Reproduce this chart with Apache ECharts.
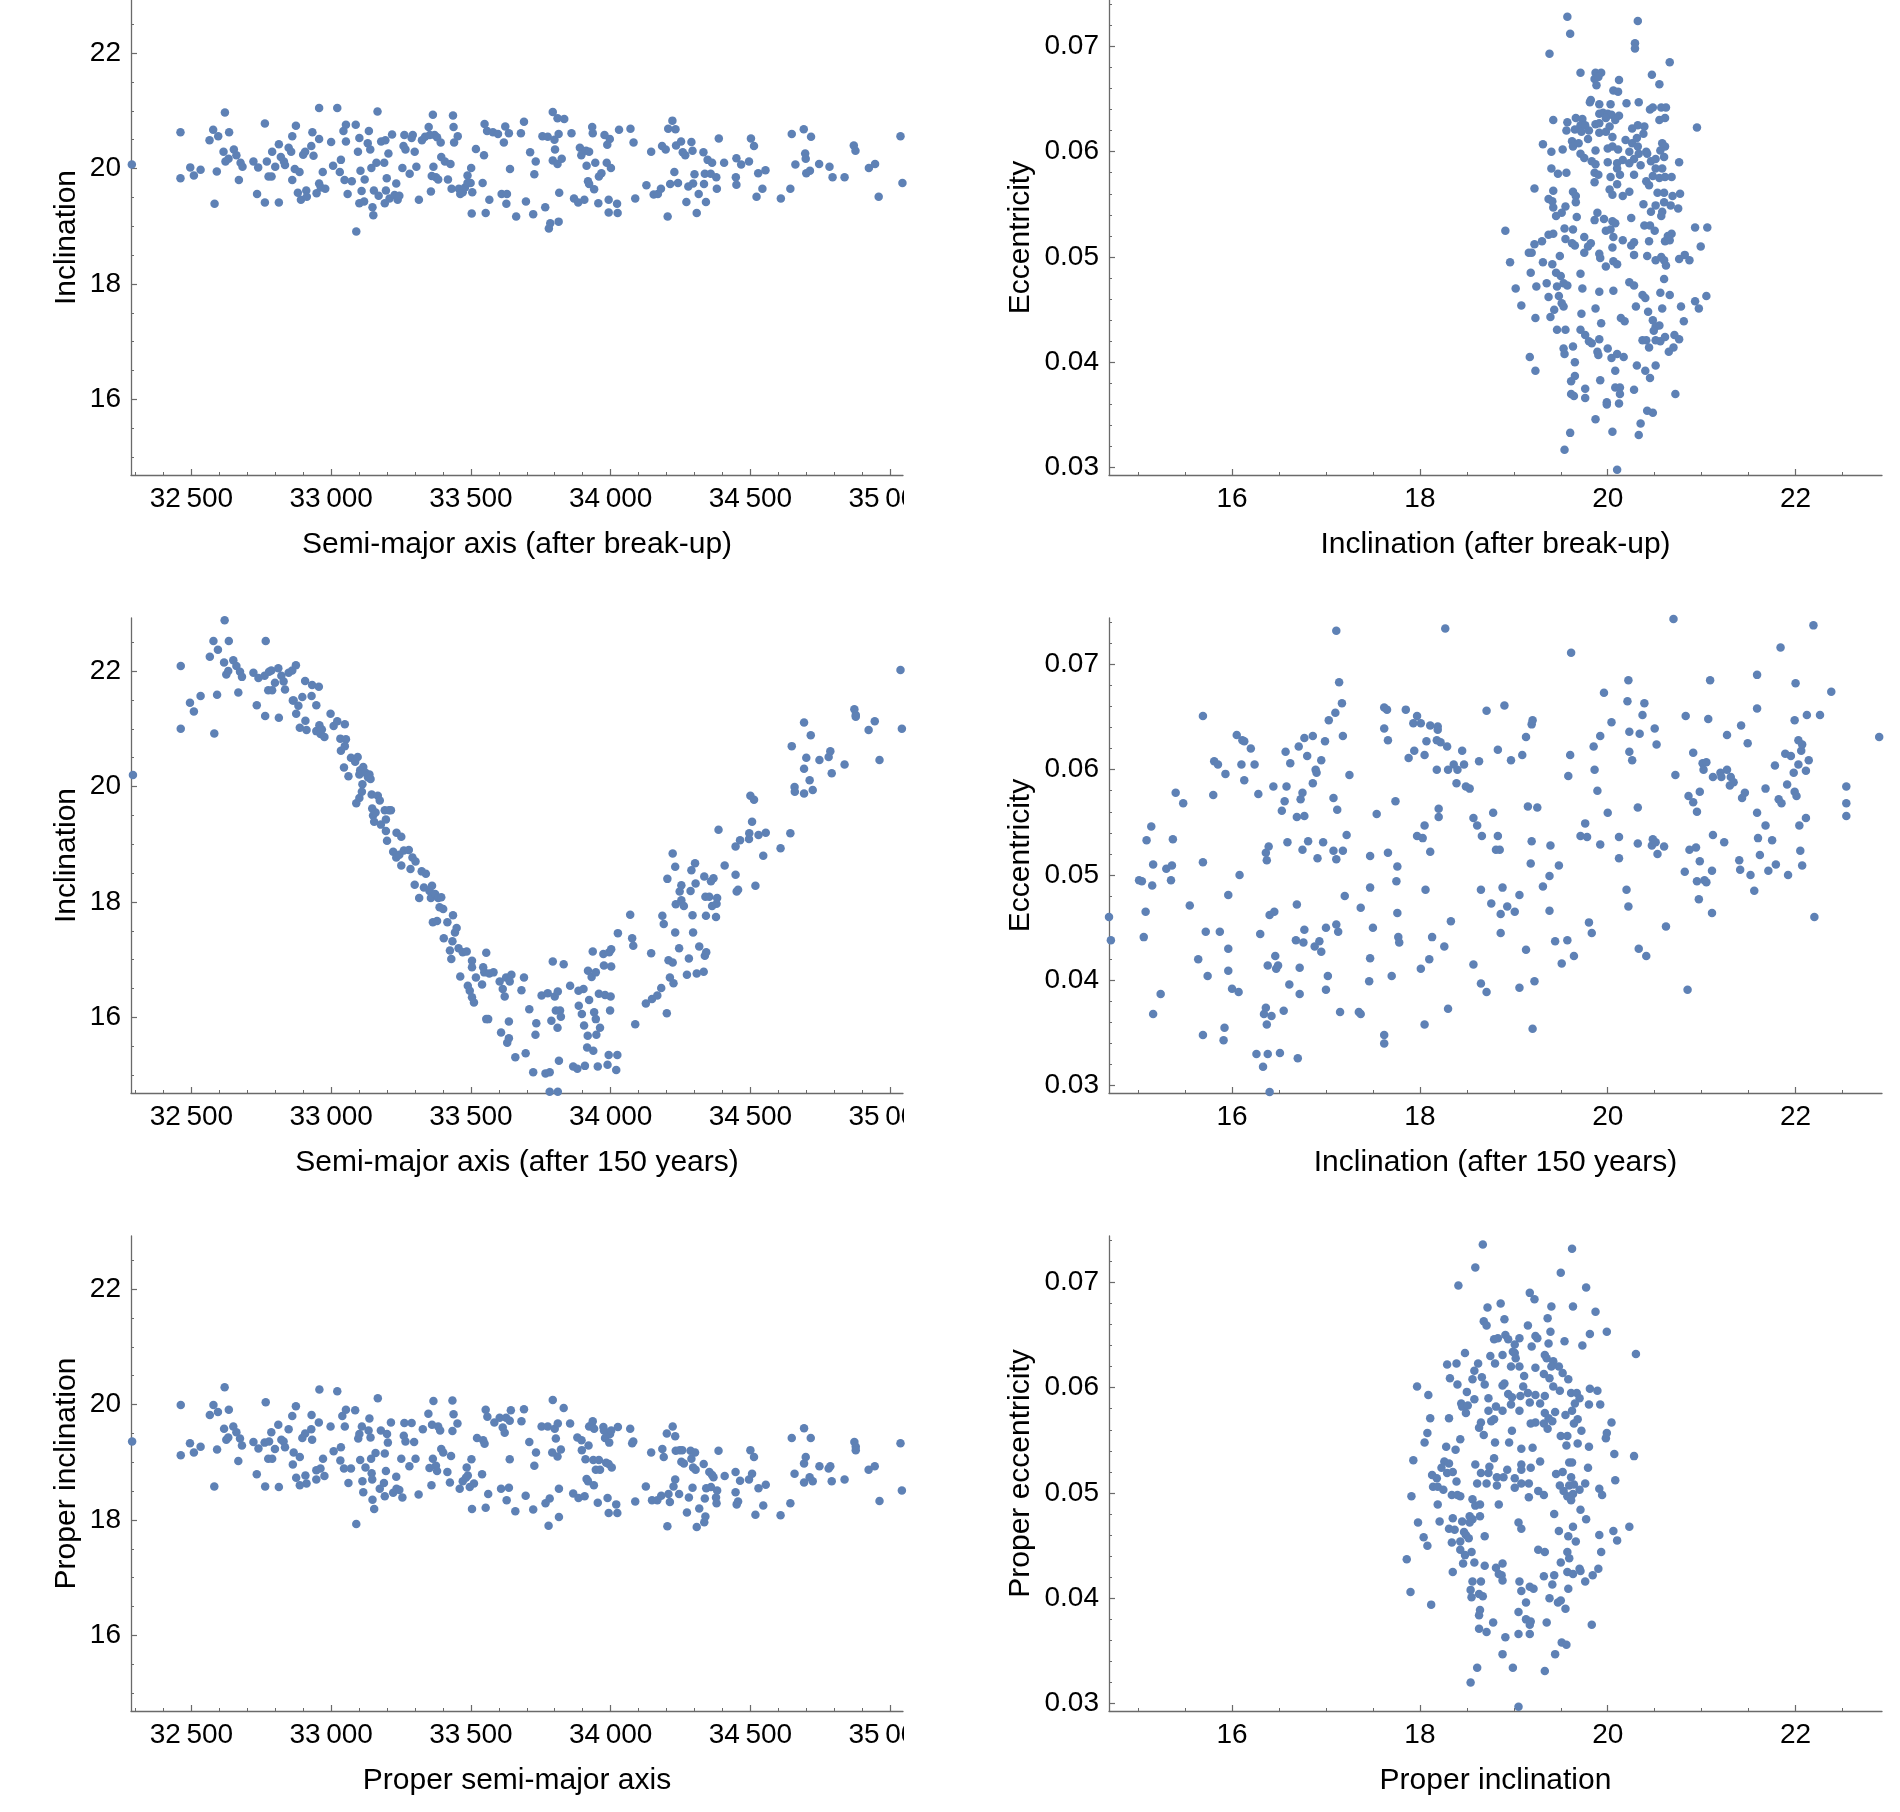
<!DOCTYPE html>
<html>
<head>
<meta charset="utf-8">
<title>Fragment orbital elements</title>
<script src="https://cdn.jsdelivr.net/npm/echarts@6.0.0/dist/echarts.min.js"></script>
<style>
  html, body { margin: 0; padding: 0; background: #fff; }
  #main { width: 1900px; height: 1812px; }
</style>
</head>
<body>
<div id="main"></div>
<script type="text/javascript">
// axis ranges and tick labels
var semiMajorRange = [32284, 35046];
var inclinationRange = [14.69, 22.92];
var eccentricityRange = [0.0293, 0.0744];
var semiMajorTicks = [32500, 33000, 33500, 34000, 34500, 35000];
var inclinationTicks = [16, 18, 20, 22];
var eccentricityTicks = [0.03, 0.04, 0.05, 0.06, 0.07];

// semi-major axis vs inclination, after break-up
var breakupSemiMajorInc = [[32287,20.07],[32461,20.63],[32461,19.83],[32496,20.02],[32509,19.88],[32533,19.98],[32565,20.49],[32578,20.67],[32583,19.39],[32591,19.95],[32596,20.56],[32620,20.97],[32622,20.12],[32615,20.29],[32635,20.63],[32633,20.17],[32652,20.33],[32661,20.23],[32670,19.80],[32676,20.10],[32683,20.03],[32722,20.12],[32735,19.56],[32739,20.02],[32763,20.78],[32763,19.41],[32770,20.12],[32776,19.86],[32787,19.86],[32789,20.29],[32800,20.03],[32813,19.41],[32813,20.42],[32820,20.20],[32831,20.12],[32835,20.06],[32848,20.36],[32857,20.29],[32861,19.80],[32870,19.99],[32874,20.74],[32861,20.56],[32881,19.58],[32887,19.94],[32892,19.46],[32900,20.24],[32907,20.29],[32911,19.62],[32913,19.51],[32929,20.39],[32933,20.63],[32937,20.22],[32948,19.57],[32957,20.51],[32957,21.05],[32957,19.74],[32963,19.67],[32970,19.94],[32979,19.65],[33000,20.46],[33007,20.05],[33022,21.05],[33031,19.94],[33035,20.15],[33044,20.65],[33053,20.47],[33053,20.76],[33048,19.80],[33059,19.56],[33074,19.78],[33088,20.76],[33090,18.91],[33096,20.29],[33101,20.53],[33105,19.96],[33109,19.61],[33101,19.40],[33118,19.43],[33120,19.81],[33131,20.44],[33135,20.65],[33140,20.33],[33144,20.01],[33148,19.33],[33151,19.19],[33153,19.62],[33162,20.10],[33166,20.99],[33170,19.53],[33179,20.47],[33190,20.10],[33194,20.49],[33196,19.62],[33199,19.83],[33205,20.26],[33192,19.40],[33209,19.48],[33218,20.59],[33227,19.54],[33233,19.74],[33238,19.46],[33244,19.53],[33255,20.01],[33259,20.39],[33262,20.58],[33266,20.33],[33281,19.91],[33288,20.53],[33292,20.58],[33299,20.29],[33305,20.03],[33314,19.46],[33325,20.49],[33336,20.55],[33349,20.72],[33353,20.58],[33357,19.60],[33360,19.87],[33364,20.93],[33366,20.03],[33370,20.58],[33375,19.85],[33379,20.54],[33383,19.81],[33392,20.45],[33394,20.20],[33407,20.12],[33418,19.81],[33427,20.08],[33431,19.65],[33436,20.92],[33438,20.72],[33440,20.45],[33453,20.56],[33457,19.65],[33462,19.56],[33471,19.59],[33479,19.67],[33488,19.88],[33488,19.75],[33501,20.01],[33503,19.22],[33505,19.59],[33499,19.75],[33518,20.34],[33542,19.75],[33547,20.23],[33549,20.77],[33553,19.23],[33558,20.65],[33566,19.46],[33579,20.63],[33597,20.60],[33610,19.56],[33618,20.45],[33623,20.73],[33627,19.39],[33629,19.56],[33636,20.61],[33640,19.99],[33662,19.17],[33679,20.61],[33690,20.81],[33697,19.43],[33712,20.28],[33723,19.21],[33727,19.90],[33732,20.12],[33756,20.56],[33766,19.33],[33775,20.55],[33779,18.96],[33784,19.05],[33793,20.98],[33793,20.14],[33799,20.50],[33801,20.33],[33810,20.87],[33810,20.08],[33814,20.60],[33814,19.08],[33816,19.58],[33825,20.17],[33834,20.86],[33860,20.61],[33869,19.48],[33884,19.41],[33890,20.36],[33895,20.23],[33906,19.46],[33912,20.31],[33914,20.05],[33919,19.78],[33923,20.29],[33923,19.73],[33934,20.72],[33936,20.61],[33941,19.64],[33945,20.10],[33956,19.40],[33958,19.86],[33967,19.92],[33978,20.58],[33986,20.10],[33988,20.41],[33993,19.46],[33993,19.24],[33997,20.51],[34001,20.01],[34023,19.39],[34025,19.23],[34030,20.67],[34071,20.69],[34082,20.45],[34088,19.48],[34128,19.71],[34145,20.29],[34154,19.55],[34169,19.56],[34180,19.65],[34184,20.39],[34197,20.33],[34204,19.17],[34206,20.69],[34213,19.73],[34221,20.83],[34228,19.94],[34232,20.68],[34234,20.40],[34241,19.75],[34252,20.47],[34258,20.28],[34267,20.23],[34271,19.42],[34278,19.69],[34289,20.46],[34293,20.31],[34295,19.74],[34300,19.90],[34308,19.23],[34315,19.56],[34332,20.28],[34334,19.73],[34337,19.91],[34341,19.42],[34347,20.15],[34358,19.91],[34363,20.10],[34378,19.85],[34380,19.65],[34387,20.52],[34406,20.10],[34448,19.85],[34450,19.72],[34450,20.18],[34467,20.07],[34495,20.12],[34502,20.52],[34513,20.39],[34522,19.51],[34528,19.92],[34543,19.65],[34554,19.97],[34609,19.48],[34643,19.65],[34648,20.60],[34661,20.07],[34691,20.68],[34696,20.26],[34698,20.17],[34700,19.92],[34713,19.96],[34717,20.55],[34746,20.08],[34783,20.03],[34794,19.85],[34837,19.85],[34870,20.40],[34876,20.31],[34924,20.01],[34946,20.08],[34959,19.51],[35037,20.56],[35044,19.75]];

// inclination vs eccentricity, after break-up
var breakupIncEcc = [[19.57,0.0728],[20.32,0.0724],[19.60,0.0712],[20.29,0.0703],[20.29,0.0698],[19.38,0.0693],[20.66,0.0685],[19.71,0.0675],[19.87,0.0675],[19.93,0.0675],[19.86,0.0669],[19.90,0.0671],[20.47,0.0673],[20.12,0.0668],[20.55,0.0664],[19.88,0.0663],[20.06,0.0658],[20.11,0.0657],[19.82,0.0649],[19.81,0.0647],[19.91,0.0645],[20.03,0.0645],[20.20,0.0646],[20.33,0.0647],[20.45,0.0640],[20.48,0.0642],[20.57,0.0642],[20.62,0.0642],[19.91,0.0636],[19.95,0.0637],[20.00,0.0636],[20.04,0.0635],[19.98,0.0632],[20.12,0.0634],[20.08,0.0630],[19.42,0.0630],[19.57,0.0628],[19.66,0.0632],[19.73,0.0631],[19.71,0.0625],[19.76,0.0625],[19.87,0.0626],[19.91,0.0627],[20.02,0.0624],[20.55,0.0630],[20.61,0.0632],[20.95,0.0623],[19.56,0.0620],[19.65,0.0621],[19.72,0.0619],[19.80,0.0620],[19.91,0.0618],[19.98,0.0619],[20.05,0.0614],[20.26,0.0622],[20.32,0.0625],[20.39,0.0624],[20.38,0.0617],[19.31,0.0607],[19.40,0.0600],[19.52,0.0602],[19.62,0.0610],[19.63,0.0605],[19.69,0.0608],[19.79,0.0612],[19.87,0.0601],[20.00,0.0603],[20.05,0.0605],[20.11,0.0602],[20.19,0.0611],[20.26,0.0608],[20.31,0.0613],[20.32,0.0605],[20.23,0.0600],[20.33,0.0598],[20.41,0.0600],[20.42,0.0598],[20.58,0.0608],[20.61,0.0605],[20.56,0.0601],[19.71,0.0598],[19.75,0.0594],[19.83,0.0591],[19.87,0.0588],[20.00,0.0590],[20.10,0.0589],[20.16,0.0592],[20.23,0.0589],[20.28,0.0593],[20.46,0.0591],[20.51,0.0593],[20.60,0.0595],[20.76,0.0590],[20.35,0.0587],[19.40,0.0584],[19.47,0.0579],[19.56,0.0580],[19.86,0.0580],[19.90,0.0578],[19.86,0.0571],[20.03,0.0576],[20.10,0.0584],[20.13,0.0578],[20.28,0.0578],[20.51,0.0584],[20.58,0.0584],[20.41,0.0572],[20.44,0.0568],[20.48,0.0577],[20.55,0.0575],[20.61,0.0576],[20.68,0.0576],[19.22,0.0565],[19.42,0.0563],[19.63,0.0562],[19.66,0.0558],[20.02,0.0564],[20.05,0.0559],[20.10,0.0569],[20.16,0.0558],[20.23,0.0562],[20.53,0.0561],[20.60,0.0561],[20.69,0.0558],[20.77,0.0560],[19.37,0.0555],[19.41,0.0553],[19.66,0.0552],[20.38,0.0550],[20.51,0.0549],[20.60,0.0552],[20.67,0.0549],[20.75,0.0546],[19.42,0.0547],[19.55,0.0548],[19.45,0.0539],[19.51,0.0542],[19.67,0.0538],[19.89,0.0542],[19.86,0.0535],[19.96,0.0536],[20.05,0.0534],[20.08,0.0532],[20.25,0.0537],[20.58,0.0543],[20.57,0.0539],[20.46,0.0543],[18.91,0.0525],[19.37,0.0521],[19.42,0.0522],[19.54,0.0527],[19.63,0.0526],[19.55,0.0517],[19.62,0.0513],[19.65,0.0511],[19.75,0.0519],[19.79,0.0510],[19.82,0.0513],[19.75,0.0504],[19.98,0.0525],[20.03,0.0526],[20.06,0.0519],[20.16,0.0516],[20.25,0.0511],[20.28,0.0514],[20.05,0.0509],[20.39,0.0530],[20.45,0.0530],[20.50,0.0525],[20.44,0.0515],[20.61,0.0515],[20.66,0.0516],[20.68,0.0522],[20.64,0.0520],[20.93,0.0528],[21.06,0.0528],[20.99,0.0510],[19.16,0.0504],[19.19,0.0504],[19.22,0.0512],[19.30,0.0515],[18.96,0.0495],[19.31,0.0495],[19.41,0.0493],[19.49,0.0501],[19.91,0.0503],[19.92,0.0499],[19.98,0.0491],[20.06,0.0496],[20.10,0.0493],[20.28,0.0502],[20.42,0.0501],[20.51,0.0497],[20.57,0.0500],[20.60,0.0497],[20.62,0.0492],[20.76,0.0498],[20.82,0.0502],[20.87,0.0497],[19.18,0.0485],[19.45,0.0485],[19.50,0.0482],[19.71,0.0484],[19.24,0.0472],[19.35,0.0475],[19.46,0.0472],[19.53,0.0475],[19.57,0.0473],[19.73,0.0470],[19.91,0.0467],[20.06,0.0468],[20.23,0.0476],[20.28,0.0473],[20.60,0.0479],[20.56,0.0466],[20.66,0.0464],[19.02,0.0470],[19.08,0.0454],[19.37,0.0462],[19.48,0.0463],[19.51,0.0456],[19.43,0.0450],[19.53,0.0453],[19.87,0.0451],[20.30,0.0453],[20.37,0.0464],[20.40,0.0461],[20.43,0.0448],[20.58,0.0451],[20.78,0.0453],[20.93,0.0458],[20.97,0.0451],[21.05,0.0463],[19.23,0.0442],[19.39,0.0443],[19.72,0.0446],[19.93,0.0437],[20.14,0.0442],[20.18,0.0439],[20.48,0.0440],[20.51,0.0434],[20.55,0.0435],[20.49,0.0430],[20.81,0.0439],[19.46,0.0431],[19.55,0.0431],[19.71,0.0431],[19.76,0.0426],[19.80,0.0420],[19.83,0.0418],[19.91,0.0422],[20.00,0.0413],[20.37,0.0421],[20.41,0.0421],[20.44,0.0414],[20.51,0.0421],[20.56,0.0420],[20.61,0.0424],[20.71,0.0426],[20.76,0.0422],[20.70,0.0414],[20.65,0.0410],[19.53,0.0413],[19.54,0.0408],[19.63,0.0415],[19.89,0.0410],[19.90,0.0407],[20.04,0.0404],[20.10,0.0408],[20.17,0.0405],[19.17,0.0405],[19.23,0.0392],[19.65,0.0400],[19.65,0.0387],[19.61,0.0382],[19.92,0.0383],[20.08,0.0392],[20.31,0.0397],[20.40,0.0392],[20.45,0.0385],[20.51,0.0397],[19.76,0.0375],[19.76,0.0366],[19.61,0.0370],[19.64,0.0368],[20.08,0.0376],[20.13,0.0376],[20.13,0.0370],[20.28,0.0374],[20.72,0.0370],[19.99,0.0362],[19.99,0.0360],[20.12,0.0361],[20.42,0.0354],[20.48,0.0352],[19.87,0.0346],[20.35,0.0342],[19.60,0.0333],[20.05,0.0334],[20.33,0.0331],[19.54,0.0317],[20.10,0.0298]];

// semi-major axis vs inclination, after 150 years
var laterSemiMajorInc = [[32291,20.20],[32462,22.09],[32462,21.00],[32495,21.45],[32509,21.30],[32533,21.57],[32566,22.25],[32579,22.52],[32582,20.92],[32592,21.59],[32595,22.37],[32619,22.88],[32617,22.15],[32625,21.94],[32632,22.00],[32634,22.52],[32650,22.19],[32661,22.09],[32668,21.63],[32674,21.99],[32681,21.90],[32722,21.97],[32734,21.41],[32740,21.88],[32762,21.92],[32764,21.22],[32766,22.52],[32775,21.67],[32778,21.99],[32786,22.01],[32789,21.67],[32799,21.80],[32811,22.05],[32813,21.19],[32822,21.92],[32830,21.82],[32835,21.68],[32848,21.97],[32861,22.01],[32863,21.49],[32866,21.49],[32874,22.10],[32875,21.26],[32883,21.40],[32888,21.02],[32897,21.55],[32907,21.83],[32908,21.14],[32912,20.98],[32930,21.57],[32932,21.76],[32947,21.41],[32947,20.96],[32956,21.73],[32958,21.06],[32962,20.91],[32967,20.99],[32976,20.86],[32998,21.26],[33009,21.05],[33022,21.13],[33033,20.83],[33035,20.62],[33046,20.33],[33049,21.08],[33053,20.82],[33049,20.70],[33062,20.18],[33071,20.50],[33086,20.43],[33095,20.51],[33101,20.21],[33104,20.28],[33112,20.04],[33115,20.34],[33123,20.24],[33132,20.16],[33137,20.21],[33141,20.13],[33090,19.71],[33101,19.80],[33110,19.91],[33145,19.86],[33147,19.62],[33150,19.50],[33154,19.39],[33159,19.55],[33167,19.84],[33174,19.76],[33178,19.34],[33192,19.59],[33196,19.43],[33196,19.23],[33200,19.06],[33207,19.59],[33214,19.59],[33222,18.87],[33233,18.77],[33234,19.20],[33244,18.82],[33251,19.13],[33251,18.63],[33260,18.89],[33278,18.90],[33284,18.57],[33291,18.77],[33299,18.30],[33302,18.70],[33315,18.07],[33324,18.53],[33332,18.25],[33339,18.49],[33352,18.19],[33357,18.07],[33361,18.28],[33364,17.65],[33372,18.14],[33379,17.67],[33383,18.07],[33388,17.91],[33394,18.08],[33401,17.88],[33403,17.37],[33416,17.65],[33425,17.16],[33430,17.01],[33434,17.32],[33436,17.77],[33443,17.47],[33449,17.55],[33456,17.20],[33462,16.71],[33471,17.13],[33485,17.14],[33489,16.55],[33496,16.46],[33504,16.98],[33504,16.87],[33504,16.35],[33511,16.26],[33518,16.69],[33540,16.57],[33544,16.87],[33548,16.78],[33555,17.12],[33555,15.97],[33562,15.97],[33566,16.76],[33581,16.78],[33603,16.62],[33608,15.74],[33614,16.49],[33621,16.36],[33626,16.69],[33630,15.56],[33636,15.64],[33636,15.93],[33639,16.62],[33645,16.74],[33659,15.31],[33681,16.47],[33690,16.69],[33696,15.38],[33709,16.14],[33723,15.05],[33731,15.70],[33734,15.90],[33753,16.38],[33767,15.03],[33775,16.42],[33782,15.05],[33782,14.71],[33788,15.94],[33793,16.97],[33800,16.36],[33804,16.12],[33810,15.82],[33811,16.45],[33811,14.71],[33815,15.25],[33819,16.12],[33822,16.01],[33832,16.92],[33855,16.55],[33866,15.15],[33881,15.11],[33886,16.20],[33885,16.46],[33897,16.06],[33903,16.49],[33905,15.86],[33908,15.16],[33916,15.48],[33918,15.68],[33919,16.81],[33923,16.30],[33932,16.70],[33936,17.14],[33938,15.42],[33941,16.09],[33947,16.78],[33947,15.97],[33949,15.70],[33954,15.15],[33958,16.41],[33962,15.82],[33974,17.10],[33976,16.90],[33980,16.39],[33989,15.18],[33993,15.35],[33995,17.13],[33998,16.12],[34000,16.36],[34002,16.88],[34002,17.18],[34020,15.09],[34024,15.35],[34026,17.46],[34070,17.78],[34077,17.37],[34081,17.24],[34088,15.88],[34126,16.24],[34145,17.11],[34148,16.32],[34167,16.38],[34181,16.51],[34185,17.76],[34190,17.62],[34201,16.07],[34203,18.40],[34207,16.99],[34212,16.69],[34222,16.95],[34222,18.84],[34225,16.59],[34231,18.61],[34231,17.47],[34233,17.96],[34245,17.20],[34247,18.18],[34253,18.29],[34253,18.03],[34262,17.93],[34273,16.74],[34280,17.02],[34286,18.19],[34289,18.55],[34293,17.77],[34295,17.47],[34302,18.67],[34304,18.32],[34308,16.76],[34317,17.23],[34333,16.79],[34335,18.44],[34337,17.07],[34339,18.09],[34341,17.76],[34342,17.13],[34353,18.09],[34359,18.36],[34363,17.93],[34368,18.41],[34377,17.74],[34379,17.97],[34381,18.07],[34386,19.25],[34408,18.63],[34447,18.96],[34447,18.47],[34451,18.18],[34456,18.21],[34463,19.07],[34495,19.09],[34496,19.19],[34500,19.84],[34506,19.39],[34513,19.77],[34518,18.28],[34529,19.16],[34546,18.80],[34555,19.20],[34608,18.93],[34643,19.19],[34648,20.70],[34658,19.99],[34659,19.91],[34692,19.88],[34692,21.11],[34692,20.31],[34700,20.50],[34712,20.11],[34716,20.89],[34723,19.94],[34747,20.46],[34780,20.51],[34786,20.61],[34791,20.23],[34837,20.38],[34872,21.34],[34877,21.24],[34877,21.21],[34923,20.98],[34945,21.13],[34962,20.46],[35037,22.02],[35042,21.00]];

// inclination vs eccentricity, after 150 years
var laterIncEcc = [[14.67,0.0488],[14.69,0.0460],[14.71,0.0438],[15.01,0.0495],[15.04,0.0494],[15.06,0.0441],[15.08,0.0465],[15.09,0.0533],[15.14,0.0546],[15.15,0.0490],[15.16,0.0510],[15.16,0.0368],[15.24,0.0387],[15.30,0.0506],[15.35,0.0495],[15.36,0.0509],[15.37,0.0534],[15.40,0.0578],[15.48,0.0568],[15.55,0.0471],[15.64,0.0420],[15.69,0.0651],[15.69,0.0348],[15.69,0.0512],[15.72,0.0446],[15.74,0.0404],[15.80,0.0576],[15.81,0.0608],[15.85,0.0605],[15.87,0.0446],[15.93,0.0596],[15.96,0.0481],[15.96,0.0430],[15.96,0.0409],[15.92,0.0355],[15.91,0.0343],[16.00,0.0392],[16.07,0.0389],[16.05,0.0633],[16.08,0.0500],[16.10,0.0605],[16.11,0.0628],[16.13,0.0627],[16.13,0.0590],[16.20,0.0620],[16.24,0.0605],[16.28,0.0577],[16.30,0.0444],[16.26,0.0330],[16.33,0.0318],[16.34,0.0368],[16.36,0.0374],[16.36,0.0521],[16.37,0.0514],[16.37,0.0358],[16.38,0.0414],[16.38,0.0330],[16.39,0.0527],[16.40,0.0294],[16.40,0.0462],[16.42,0.0366],[16.45,0.0465],[16.44,0.0584],[16.46,0.0423],[16.47,0.0411],[16.49,0.0414],[16.51,0.0331],[16.53,0.0561],[16.55,0.0371],[16.56,0.0570],[16.57,0.0617],[16.58,0.0584],[16.59,0.0531],[16.61,0.0396],[16.62,0.0606],[16.68,0.0438],[16.69,0.0472],[16.69,0.0555],[16.70,0.0326],[16.71,0.0622],[16.72,0.0412],[16.72,0.0387],[16.73,0.0572],[16.75,0.0524],[16.75,0.0578],[16.76,0.0436],[16.77,0.0630],[16.77,0.0448],[16.77,0.0556],[16.80,0.0613],[16.81,0.0532],[16.86,0.0632],[16.86,0.0587],[16.88,0.0432],[16.89,0.0600],[16.90,0.0597],[16.91,0.0516],[16.93,0.0437],[16.95,0.0609],[16.95,0.0427],[16.97,0.0531],[16.99,0.0627],[17.00,0.0391],[17.00,0.0450],[17.02,0.0404],[17.03,0.0647],[17.08,0.0573],[17.08,0.0523],[17.10,0.0654],[17.11,0.0732],[17.11,0.0515],[17.11,0.0453],[17.12,0.0562],[17.13,0.0446],[17.14,0.0683],[17.15,0.0370],[17.17,0.0663],[17.18,0.0523],[17.18,0.0632],[17.20,0.0480],[17.22,0.0538],[17.25,0.0595],[17.35,0.0370],[17.37,0.0368],[17.37,0.0469],[17.47,0.0488],[17.47,0.0518],[17.47,0.0421],[17.46,0.0399],[17.50,0.0450],[17.54,0.0558],[17.62,0.0639],[17.62,0.0348],[17.62,0.0340],[17.62,0.0659],[17.65,0.0657],[17.66,0.0628],[17.66,0.0521],[17.70,0.0404],[17.74,0.0570],[17.75,0.0494],[17.76,0.0508],[17.76,0.0464],[17.77,0.0441],[17.78,0.0436],[17.85,0.0657],[17.88,0.0611],[17.93,0.0644],[17.94,0.0618],[17.97,0.0651],[17.97,0.0537],[18.01,0.0644],[18.03,0.0535],[18.05,0.0614],[18.05,0.0358],[18.05,0.0547],[18.06,0.0486],[18.07,0.0627],[18.01,0.0411],[18.10,0.0420],[18.11,0.0642],[18.11,0.0522],[18.13,0.0441],[18.18,0.0628],[18.18,0.0600],[18.19,0.0641],[18.19,0.0638],[18.20,0.0555],[18.20,0.0563],[18.22,0.0626],[18.26,0.0432],[18.27,0.0734],[18.29,0.0622],[18.30,0.0600],[18.30,0.0373],[18.33,0.0456],[18.36,0.0605],[18.39,0.0587],[18.40,0.0600],[18.45,0.0618],[18.47,0.0605],[18.49,0.0584],[18.53,0.0582],[18.57,0.0415],[18.57,0.0554],[18.61,0.0547],[18.63,0.0608],[18.65,0.0397],[18.66,0.0537],[18.65,0.0486],[18.71,0.0389],[18.71,0.0656],[18.76,0.0473],[18.78,0.0559],[18.81,0.0524],[18.83,0.0619],[18.83,0.0537],[18.85,0.0524],[18.86,0.0463],[18.86,0.0445],[18.88,0.0488],[18.90,0.0661],[18.93,0.0470],[18.97,0.0609],[19.01,0.0465],[19.06,0.0481],[19.06,0.0393],[19.09,0.0614],[19.13,0.0429],[19.13,0.0631],[19.15,0.0565],[19.18,0.0511],[19.19,0.0532],[19.19,0.0643],[19.20,0.0647],[19.22,0.0399],[19.20,0.0354],[19.25,0.0564],[19.31,0.0489],[19.38,0.0466],[19.38,0.0499],[19.39,0.0528],[19.44,0.0437],[19.48,0.0509],[19.51,0.0416],[19.57,0.0438],[19.58,0.0594],[19.60,0.0614],[19.61,0.0711],[19.64,0.0423],[19.71,0.0537],[19.76,0.0549],[19.78,0.0536],[19.80,0.0455],[19.83,0.0445],[19.85,0.0622],[19.86,0.0600],[19.89,0.0580],[19.92,0.0529],[19.92,0.0632],[19.96,0.0673],[20.00,0.0559],[20.04,0.0645],[20.12,0.0516],[20.12,0.0536],[20.20,0.0486],[20.21,0.0665],[20.22,0.0685],[20.22,0.0470],[20.23,0.0636],[20.23,0.0617],[20.26,0.0609],[20.32,0.0564],[20.32,0.0530],[20.33,0.0430],[20.34,0.0634],[20.37,0.0652],[20.39,0.0663],[20.41,0.0423],[20.47,0.0528],[20.48,0.0534],[20.50,0.0639],[20.51,0.0531],[20.52,0.0624],[20.53,0.0520],[20.60,0.0527],[20.62,0.0451],[20.70,0.0743],[20.72,0.0595],[20.82,0.0503],[20.83,0.0651],[20.85,0.0391],[20.86,0.0575],[20.87,0.0524],[20.91,0.0569],[20.91,0.0616],[20.94,0.0526],[20.95,0.0560],[20.95,0.0494],[20.97,0.0477],[20.98,0.0579],[20.98,0.0513],[21.01,0.0606],[21.02,0.0600],[21.03,0.0495],[21.05,0.0493],[21.05,0.0607],[21.07,0.0648],[21.09,0.0685],[21.11,0.0504],[21.11,0.0464],[21.12,0.0593],[21.12,0.0538],[21.20,0.0597],[21.21,0.0593],[21.24,0.0531],[21.27,0.0600],[21.27,0.0633],[21.30,0.0585],[21.31,0.0593],[21.34,0.0588],[21.40,0.0514],[21.41,0.0505],[21.42,0.0642],[21.43,0.0573],[21.46,0.0578],[21.49,0.0625],[21.52,0.0500],[21.56,0.0485],[21.59,0.0559],[21.59,0.0658],[21.59,0.0690],[21.60,0.0535],[21.62,0.0519],[21.68,0.0582],[21.68,0.0547],[21.71,0.0504],[21.75,0.0533],[21.78,0.0604],[21.79,0.0510],[21.82,0.0572],[21.84,0.0716],[21.85,0.0568],[21.89,0.0615],[21.91,0.0586],[21.92,0.0500],[21.95,0.0613],[21.98,0.0597],[21.99,0.0579],[21.99,0.0647],[22.00,0.0682],[22.01,0.0575],[22.03,0.0605],[22.03,0.0628],[22.04,0.0547],[22.05,0.0523],[22.06,0.0618],[22.07,0.0624],[22.07,0.0509],[22.11,0.0554],[22.11,0.0599],[22.12,0.0652],[22.14,0.0609],[22.19,0.0737],[22.20,0.0460],[22.26,0.0652],[22.38,0.0674],[22.54,0.0584],[22.54,0.0568],[22.54,0.0556],[22.89,0.0631]];

// proper semi-major axis vs proper inclination
var properSemiMajorInc = [[32288,19.36],[32462,19.99],[32462,19.12],[32495,19.33],[32509,19.17],[32533,19.27],[32566,19.82],[32579,19.99],[32582,18.58],[32592,19.22],[32595,19.87],[32619,20.30],[32617,19.58],[32625,19.39],[32634,19.91],[32632,19.43],[32650,19.62],[32661,19.52],[32668,19.02],[32674,19.41],[32681,19.29],[32722,19.35],[32734,18.79],[32740,19.24],[32762,19.34],[32764,18.58],[32766,20.04],[32775,19.06],[32778,19.36],[32786,19.52],[32789,19.06],[32799,19.23],[32811,19.65],[32813,18.57],[32822,19.39],[32830,19.36],[32835,19.26],[32848,19.57],[32861,19.80],[32863,18.96],[32866,19.17],[32874,19.97],[32875,18.73],[32888,19.09],[32888,18.60],[32897,19.42],[32907,19.50],[32908,18.77],[32912,18.63],[32930,19.82],[32932,19.39],[32929,19.57],[32947,18.86],[32947,18.70],[32956,19.69],[32958,20.26],[32962,18.89],[32971,19.06],[32976,18.76],[32998,19.62],[33009,19.19],[33022,20.23],[33033,19.03],[33035,19.26],[33046,18.89],[33049,19.62],[33053,19.91],[33040,19.80],[33062,18.64],[33071,18.89],[33086,19.90],[33090,17.93],[33097,19.41],[33101,19.49],[33104,19.04],[33110,19.62],[33112,18.67],[33115,18.48],[33123,18.91],[33134,19.55],[33137,19.76],[33141,19.43],[33143,19.06],[33145,18.81],[33147,18.70],[33148,18.35],[33154,18.19],[33159,19.16],[33167,20.11],[33174,18.54],[33178,19.55],[33189,18.64],[33192,18.41],[33192,19.15],[33196,18.85],[33200,19.49],[33203,19.34],[33214,19.69],[33222,18.47],[33233,18.75],[33234,18.54],[33244,18.52],[33251,19.06],[33255,18.39],[33260,19.46],[33262,19.68],[33266,19.36],[33280,18.93],[33288,19.68],[33297,19.35],[33302,19.06],[33313,18.44],[33328,19.57],[33348,19.84],[33352,18.90],[33359,18.60],[33361,19.65],[33366,20.06],[33364,19.06],[33375,18.94],[33379,18.85],[33383,19.62],[33390,19.55],[33394,19.23],[33401,19.17],[33416,18.83],[33425,18.65],[33429,19.11],[33434,20.07],[33438,19.83],[33434,19.54],[33452,19.67],[33460,18.54],[33471,18.67],[33482,18.73],[33485,18.91],[33489,18.77],[33496,18.57],[33502,19.05],[33504,18.19],[33511,18.63],[33522,19.42],[33540,18.79],[33544,19.38],[33549,19.32],[33553,19.91],[33553,18.21],[33559,19.79],[33562,18.45],[33584,19.69],[33603,19.77],[33608,18.54],[33614,19.60],[33621,19.51],[33626,19.77],[33628,18.34],[33636,18.56],[33639,19.72],[33643,19.90],[33639,19.05],[33659,18.15],[33681,19.71],[33690,19.92],[33696,18.42],[33709,19.35],[33723,18.18],[33727,18.94],[33733,19.17],[33753,19.62],[33767,18.29],[33775,19.62],[33778,17.90],[33782,18.37],[33791,19.17],[33793,20.08],[33800,19.58],[33804,19.41],[33810,19.10],[33811,19.67],[33815,18.54],[33815,18.05],[33822,19.22],[33832,19.94],[33855,19.67],[33866,18.46],[33881,19.43],[33885,18.38],[33896,19.38],[33897,19.21],[33907,18.41],[33910,19.05],[33914,18.71],[33919,18.67],[33921,19.29],[33923,19.62],[33932,19.64],[33936,19.71],[33938,19.04],[33940,18.60],[33941,19.58],[33947,18.87],[33954,18.30],[33958,19.04],[33962,18.87],[33974,19.61],[33976,19.55],[33980,19.42],[33984,18.99],[33989,18.38],[33993,18.12],[33993,18.97],[33995,19.34],[33998,19.49],[34002,19.55],[34004,18.91],[34020,18.27],[34024,18.12],[34026,19.61],[34070,19.58],[34077,19.33],[34081,19.36],[34088,18.32],[34126,18.58],[34145,19.17],[34148,18.34],[34167,18.34],[34181,18.42],[34185,19.23],[34190,19.09],[34201,19.50],[34203,17.89],[34207,18.45],[34212,18.31],[34222,19.62],[34225,18.58],[34231,19.45],[34231,18.70],[34233,19.20],[34245,18.45],[34247,19.21],[34253,19.01],[34256,19.21],[34262,18.98],[34273,18.13],[34280,18.39],[34286,19.20],[34289,19.06],[34293,18.56],[34295,18.91],[34302,19.17],[34304,18.87],[34308,17.88],[34317,18.20],[34333,18.97],[34335,17.96],[34337,18.37],[34339,18.06],[34342,18.55],[34353,18.83],[34359,18.57],[34363,18.78],[34368,18.74],[34377,18.39],[34379,18.29],[34381,18.51],[34386,19.20],[34408,18.76],[34447,18.48],[34447,18.83],[34451,18.27],[34456,18.32],[34463,18.68],[34495,18.70],[34500,19.21],[34506,18.80],[34513,19.09],[34518,18.09],[34529,18.55],[34546,18.25],[34555,18.61],[34608,18.08],[34643,18.29],[34648,19.42],[34658,18.80],[34692,19.59],[34692,18.98],[34698,19.09],[34692,18.65],[34712,18.74],[34716,19.42],[34723,18.67],[34747,18.93],[34780,18.89],[34786,18.93],[34791,18.67],[34837,18.70],[34872,19.35],[34877,19.27],[34877,19.21],[34923,18.87],[34945,18.93],[34962,18.33],[35037,19.33],[35042,18.51]];

// proper inclination vs proper eccentricity
var properIncEcc = [[18.67,0.0736],[19.62,0.0732],[18.59,0.0714],[19.50,0.0709],[18.41,0.0697],[19.77,0.0695],[19.17,0.0690],[19.22,0.0684],[18.86,0.0680],[18.72,0.0676],[19.40,0.0677],[19.63,0.0677],[19.87,0.0672],[18.90,0.0665],[18.68,0.0663],[18.71,0.0659],[19.15,0.0659],[19.36,0.0666],[19.39,0.0653],[19.99,0.0653],[19.81,0.0651],[19.54,0.0644],[19.23,0.0649],[19.25,0.0647],[19.06,0.0647],[18.83,0.0647],[18.79,0.0646],[18.91,0.0650],[18.94,0.0646],[19.19,0.0639],[19.37,0.0642],[19.73,0.0640],[19.01,0.0641],[18.48,0.0633],[18.29,0.0622],[18.39,0.0623],[18.62,0.0623],[18.75,0.0630],[18.80,0.0623],[18.88,0.0631],[19.01,0.0633],[18.99,0.0634],[19.02,0.0628],[19.33,0.0631],[19.35,0.0628],[19.42,0.0625],[19.48,0.0620],[19.40,0.0620],[20.30,0.0632],[18.32,0.0609],[18.40,0.0603],[18.58,0.0616],[18.56,0.0608],[18.66,0.0610],[18.69,0.0603],[18.97,0.0620],[19.06,0.0620],[19.11,0.0611],[19.23,0.0619],[19.32,0.0613],[19.38,0.0609],[19.52,0.0614],[19.58,0.0608],[17.97,0.0601],[18.09,0.0593],[18.50,0.0596],[18.58,0.0589],[18.73,0.0590],[18.88,0.0602],[18.90,0.0604],[18.94,0.0594],[18.98,0.0591],[19.07,0.0592],[19.10,0.0601],[19.15,0.0595],[19.17,0.0586],[19.23,0.0593],[19.28,0.0585],[19.33,0.0592],[19.42,0.0601],[19.49,0.0597],[19.61,0.0595],[19.67,0.0595],[19.81,0.0599],[19.89,0.0597],[19.70,0.0590],[19.65,0.0585],[19.80,0.0584],[19.92,0.0584],[18.44,0.0585],[18.45,0.0582],[18.49,0.0576],[18.51,0.0583],[18.73,0.0578],[18.81,0.0582],[18.88,0.0578],[18.79,0.0570],[18.97,0.0584],[19.06,0.0578],[19.33,0.0576],[19.37,0.0571],[19.44,0.0577],[19.41,0.0568],[19.32,0.0566],[19.55,0.0574],[19.62,0.0578],[19.68,0.0570],[19.64,0.0566],[19.72,0.0559],[18.11,0.0571],[18.31,0.0571],[18.65,0.0567],[18.63,0.0562],[18.68,0.0555],[18.76,0.0568],[19.18,0.0566],[19.23,0.0567],[19.36,0.0561],[18.98,0.0559],[18.08,0.0557],[18.05,0.0548],[18.43,0.0551],[18.38,0.0541],[18.28,0.0544],[18.80,0.0548],[18.95,0.0548],[19.08,0.0542],[19.20,0.0543],[19.50,0.0554],[19.57,0.0554],[19.56,0.0545],[19.68,0.0547],[19.80,0.0544],[19.98,0.0552],[19.99,0.0557],[20.04,0.0567],[20.07,0.0537],[20.28,0.0535],[17.93,0.0531],[18.26,0.0530],[18.31,0.0528],[18.23,0.0524],[18.29,0.0519],[18.35,0.0520],[18.13,0.0517],[18.18,0.0514],[18.14,0.0506],[18.19,0.0506],[18.25,0.0503],[18.39,0.0511],[18.59,0.0527],[18.65,0.0519],[18.71,0.0509],[18.61,0.0509],[18.74,0.0525],[18.73,0.0519],[18.79,0.0533],[18.82,0.0515],[18.89,0.0515],[18.82,0.0507],[18.93,0.0522],[19.01,0.0514],[19.08,0.0527],[19.08,0.0522],[19.18,0.0524],[19.08,0.0509],[19.01,0.0505],[19.16,0.0509],[19.28,0.0530],[19.45,0.0518],[19.52,0.0520],[19.59,0.0529],[19.62,0.0529],[19.61,0.0515],[19.79,0.0524],[19.59,0.0507],[19.64,0.0508],[19.76,0.0509],[19.49,0.0507],[19.53,0.0502],[19.57,0.0497],[19.63,0.0499],[19.61,0.0493],[19.70,0.0503],[19.91,0.0504],[19.94,0.0498],[20.08,0.0512],[17.91,0.0497],[18.34,0.0498],[18.40,0.0498],[18.43,0.0497],[18.19,0.0489],[18.56,0.0494],[18.59,0.0488],[18.64,0.0489],[18.84,0.0489],[19.16,0.0496],[19.26,0.0502],[19.32,0.0498],[18.35,0.0476],[18.45,0.0473],[18.53,0.0478],[18.56,0.0475],[18.53,0.0472],[18.64,0.0478],[17.98,0.0472],[18.21,0.0473],[18.31,0.0466],[18.37,0.0465],[18.47,0.0463],[18.49,0.0460],[18.52,0.0457],[18.43,0.0454],[18.34,0.0453],[18.04,0.0458],[18.08,0.0450],[18.69,0.0459],[18.43,0.0446],[18.48,0.0441],[18.46,0.0433],[18.55,0.0444],[18.58,0.0434],[18.69,0.0431],[17.86,0.0437],[18.35,0.0425],[18.81,0.0429],[18.88,0.0433],[18.84,0.0423],[18.87,0.0422],[18.88,0.0417],[19.05,0.0472],[19.08,0.0466],[19.43,0.0480],[19.48,0.0464],[19.63,0.0468],[19.71,0.0484],[19.77,0.0475],[19.58,0.0459],[19.66,0.0454],[19.91,0.0460],[20.06,0.0464],[20.10,0.0455],[20.23,0.0468],[19.93,0.0444],[19.26,0.0446],[19.33,0.0444],[19.57,0.0444],[19.59,0.0438],[19.50,0.0434],[19.70,0.0428],[19.71,0.0426],[19.90,0.0428],[19.84,0.0422],[19.57,0.0425],[19.63,0.0423],[19.76,0.0416],[19.43,0.0422],[19.32,0.0421],[19.41,0.0413],[19.58,0.0409],[19.06,0.0416],[19.08,0.0407],[19.17,0.0411],[19.21,0.0409],[18.56,0.0416],[18.65,0.0416],[18.54,0.0408],[18.63,0.0404],[18.67,0.0402],[18.55,0.0401],[17.90,0.0406],[18.12,0.0394],[19.13,0.0396],[19.38,0.0400],[19.47,0.0396],[19.50,0.0398],[19.55,0.0390],[18.64,0.0389],[18.63,0.0384],[19.05,0.0387],[18.78,0.0377],[18.63,0.0371],[18.71,0.0368],[19.13,0.0380],[19.18,0.0378],[19.17,0.0375],[19.35,0.0377],[19.83,0.0375],[18.91,0.0363],[19.05,0.0366],[19.17,0.0366],[19.51,0.0358],[19.56,0.0356],[18.88,0.0347],[19.44,0.0347],[18.61,0.0334],[18.99,0.0334],[19.33,0.0331],[18.54,0.0320],[19.05,0.0297]];

var dotColor = '#5e81b5';
var frameColor = '#6a6a6a';
var fontFamily = '"Liberation Sans", Arial, Helvetica, sans-serif';

function semiMajorLabel(v) {
	var s = String(Math.round(v));
	return s.slice(0, s.length - 3) + '\u2009' + s.slice(-3);
}
function minorTicks(lo, hi, step) {
	var out = [];
	var start = Math.ceil(lo / step - 1e-9);
	for (var k = start; k * step <= hi + 1e-12; k++) out.push(+(k * step).toFixed(6));
	return out;
}

var semiMajorAxis = { range: semiMajorRange, ticks: semiMajorTicks, minor: minorTicks(semiMajorRange[0], semiMajorRange[1], 100), fmt: semiMajorLabel };
var inclinationAxis = { range: inclinationRange, ticks: inclinationTicks, minor: minorTicks(inclinationRange[0], inclinationRange[1], 0.5), fmt: function (v) { return String(v); } };
var eccentricityAxis = { range: eccentricityRange, ticks: eccentricityTicks, minor: minorTicks(eccentricityRange[0], eccentricityRange[1], 0.002), fmt: function (v) { return v.toFixed(2); } };

var panels = [
	{ data: breakupSemiMajorInc, x: semiMajorAxis, y: inclinationAxis, xName: 'Semi-major axis (after break-up)', yName: 'Inclination', col: 0, row: 0 },
	{ data: breakupIncEcc, x: inclinationAxis, y: eccentricityAxis, xName: 'Inclination (after break-up)', yName: 'Eccentricity', col: 1, row: 0 },
	{ data: laterSemiMajorInc, x: semiMajorAxis, y: inclinationAxis, xName: 'Semi-major axis (after 150 years)', yName: 'Inclination', col: 0, row: 1 },
	{ data: laterIncEcc, x: inclinationAxis, y: eccentricityAxis, xName: 'Inclination (after 150 years)', yName: 'Eccentricity', col: 1, row: 1 },
	{ data: properSemiMajorInc, x: semiMajorAxis, y: inclinationAxis, xName: 'Proper semi-major axis', yName: 'Proper inclination', col: 0, row: 2 },
	{ data: properIncEcc, x: inclinationAxis, y: eccentricityAxis, xName: 'Proper inclination', yName: 'Proper eccentricity', col: 1, row: 2 }
];

// layout of the 3 x 2 panels
var colLeft = [131, 1109];
var colWidth = [772, 773];
var rowTop = [0, 618, 1236];
var rowHeight = 475;
var yNameGap = [49, 73];

var grids = [], xAxes = [], yAxes = [], series = [], graphics = [];

panels.forEach(function (p, i) {
	grids.push({ left: colLeft[p.col], top: rowTop[p.row], width: colWidth[p.col], height: rowHeight });

	// major axis: line, ticks, labels, name
	xAxes.push({
		type: 'value', gridIndex: i, position: 'bottom', min: p.x.range[0], max: p.x.range[1],
		name: p.xName, nameLocation: 'middle', nameGap: 55,
		nameTextStyle: { color: '#000', fontSize: 30, fontFamily: fontFamily },
		axisLine: { show: true, onZero: false, lineStyle: { color: frameColor, width: 1.3 } },
		axisTick: { show: true, inside: true, length: 6, customValues: p.x.ticks, lineStyle: { color: frameColor, width: 1.2 } },
		axisLabel: { show: true, customValues: p.x.ticks, formatter: p.x.fmt, margin: 10, color: '#000', fontSize: 28, fontFamily: fontFamily },
		splitLine: { show: false }
	});
	// minor ticks
	xAxes.push({
		type: 'value', gridIndex: i, position: 'bottom', min: p.x.range[0], max: p.x.range[1],
		axisLine: { show: false, onZero: false },
		axisTick: { show: true, inside: true, length: 3, customValues: p.x.minor, lineStyle: { color: frameColor, width: 1 } },
		axisLabel: { show: false }, splitLine: { show: false }
	});
	yAxes.push({
		type: 'value', gridIndex: i, position: 'left', min: p.y.range[0], max: p.y.range[1],
		name: p.yName, nameLocation: 'middle', nameGap: yNameGap[p.col], nameRotate: 90,
		nameTextStyle: { color: '#000', fontSize: 30, fontFamily: fontFamily },
		axisLine: { show: true, onZero: false, lineStyle: { color: frameColor, width: 1.3 } },
		axisTick: { show: true, inside: true, length: 6, customValues: p.y.ticks, lineStyle: { color: frameColor, width: 1.2 } },
		axisLabel: { show: true, customValues: p.y.ticks, formatter: p.y.fmt, margin: 10, color: '#000', fontSize: 28, fontFamily: fontFamily },
		splitLine: { show: false }
	});
	yAxes.push({
		type: 'value', gridIndex: i, position: 'left', min: p.y.range[0], max: p.y.range[1],
		axisLine: { show: false, onZero: false },
		axisTick: { show: true, inside: true, length: 3, customValues: p.y.minor, lineStyle: { color: frameColor, width: 1 } },
		axisLabel: { show: false }, splitLine: { show: false }
	});

	series.push({
		type: 'scatter', xAxisIndex: 2 * i, yAxisIndex: 2 * i,
		data: p.data, symbol: 'circle', symbolSize: 8.5, clip: true,
		itemStyle: { color: dotColor, opacity: 1 },
		emphasis: { disabled: true }, animation: false
	});

	// the reference cuts the last semi-major tick label at the frame edge
	if (p.col === 0) {
		graphics.push({
			type: 'rect', z: 100,
			shape: { x: colLeft[0] + colWidth[0] + 1, y: rowTop[p.row] + rowHeight + 4, width: 70, height: 42 },
			style: { fill: '#fff' }
		});
	}
});

var myChart = echarts.init(document.getElementById('main'), null, { renderer: 'canvas' });
myChart.setOption({
	backgroundColor: '#fff',
	animation: false,
	grid: grids,
	xAxis: xAxes,
	yAxis: yAxes,
	series: series,
	graphic: graphics
});
</script>
</body>
</html>
